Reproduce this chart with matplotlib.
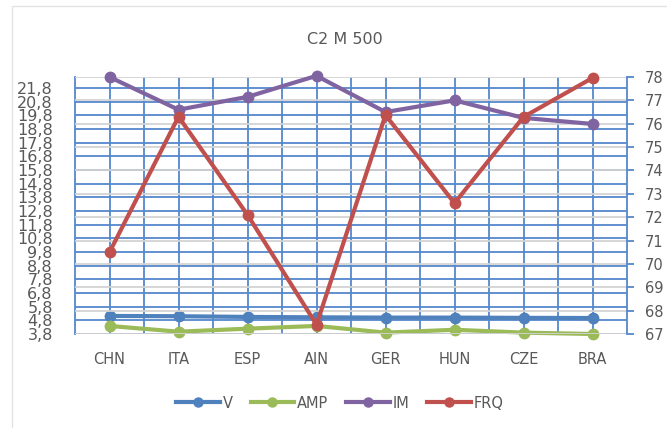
import matplotlib
matplotlib.use("Agg")
import matplotlib.pyplot as plt
import numpy as np
from matplotlib.lines import Line2D

# data
countries = ["CHN", "ITA", "ESP", "AIN", "GER", "HUN", "CZE", "BRA"]
v_vals = [5.12, 5.10, 5.05, 5.02, 5.00, 5.00, 4.98, 4.97]     # left axis
amp_vals = [4.39, 3.97, 4.19, 4.39, 3.90, 4.11, 3.90, 3.80]   # left axis
im_vals = [78.0, 76.6, 77.15, 78.05, 76.5, 77.0, 76.25, 75.99]  # right axis
frq_vals = [70.5, 76.3, 72.1, 67.4, 76.37, 72.6, 76.29, 77.96]  # right axis
left_ticks = [3.8 + i for i in range(19)]
right_ticks = list(range(67, 79))

BLUE = "#4F81BD"
GREEN = "#9BBB59"
PURPLE = "#8064A2"
RED = "#C0504D"
GRID_BLUE = "#5587CC"
TXT = "#595959"

fig = plt.figure(figsize=(6.67, 4.28), dpi=100)
ax = fig.add_axes([75/667, 1-334/428, (627-75)/667, (334-77)/428])
ax2 = ax.twinx()

x = np.arange(len(countries))

# left axis: blue grid
ax.set_xlim(-0.5, len(countries) - 0.5)
ax.set_ylim(3.8, 22.6)
ax.set_yticks(left_ticks)
ax.set_yticklabels([("%.1f" % t).replace(".", ",") for t in left_ticks],
                   fontsize=11.5, color=TXT)
ax.set_xticks(x)
ax.set_xticklabels(countries, fontsize=10.5, color=TXT)
ax.set_xticks(x[:-1] + 0.5, minor=True)
ax.tick_params(axis="both", which="both", length=0)
ax.tick_params(axis="x", pad=13)
ax.tick_params(axis="y", pad=16)
ax.grid(True, axis="y", color=GRID_BLUE, lw=1.3, zorder=0)
ax.grid(True, axis="x", which="both", color=GRID_BLUE, lw=1.3, zorder=0)
for s in ["top", "bottom", "right"]:
    ax.spines[s].set_visible(False)
ax.spines["left"].set_color(GRID_BLUE)
ax.spines["left"].set_linewidth(1.3)

ax.plot(x, v_vals, color=BLUE, lw=3.0, marker="o", ms=7.5, zorder=3, clip_on=False)
ax.plot(x, amp_vals, color=GREEN, lw=3.0, marker="o", ms=7.5, zorder=3, clip_on=False)

# right axis: gray grid
ax2.set_ylim(67, 78)
ax2.set_yticks(right_ticks)
ax2.set_yticklabels([str(t) for t in right_ticks], fontsize=10.5, color=TXT)
ax2.tick_params(axis="y", length=5, width=1.3, color=GRID_BLUE, pad=8)
ax2.grid(True, axis="y", color="#D3D3D3", lw=1.3, zorder=0)
for s in ["top", "bottom", "left"]:
    ax2.spines[s].set_visible(False)
ax2.spines["right"].set_color(GRID_BLUE)
ax2.spines["right"].set_linewidth(1.3)

ax2.plot(x, im_vals, color=PURPLE, lw=3.0, marker="o", ms=7.5, zorder=3, clip_on=False)
ax2.plot(x, frq_vals, color=RED, lw=3.0, marker="o", ms=7.5, zorder=4, clip_on=False)

fig.text(345/667, 1-40/428, "C2 M 500", ha="center", va="center",
         fontsize=11.5, color=TXT)

handles = [Line2D([], [], color=c, lw=3.0, marker="o", ms=6.5)
           for c in [BLUE, GREEN, PURPLE, RED]]
fig.legend(handles, ["V", "AMP", "IM", "FRQ"], loc="center",
           bbox_to_anchor=(340/667, 1-403/428), ncol=4, frameon=False,
           fontsize=10.5, labelcolor=TXT, handlelength=3.0, handletextpad=0.2,
           columnspacing=1.2)

# thin chart border
fig.add_artist(plt.Rectangle((12/667, -0.01), 1.0, 1-6/428 + 0.01,
                             transform=fig.transFigure, fill=False,
                             edgecolor="#E3E3E3", lw=1))

fig.savefig("out.png", dpi=100)
